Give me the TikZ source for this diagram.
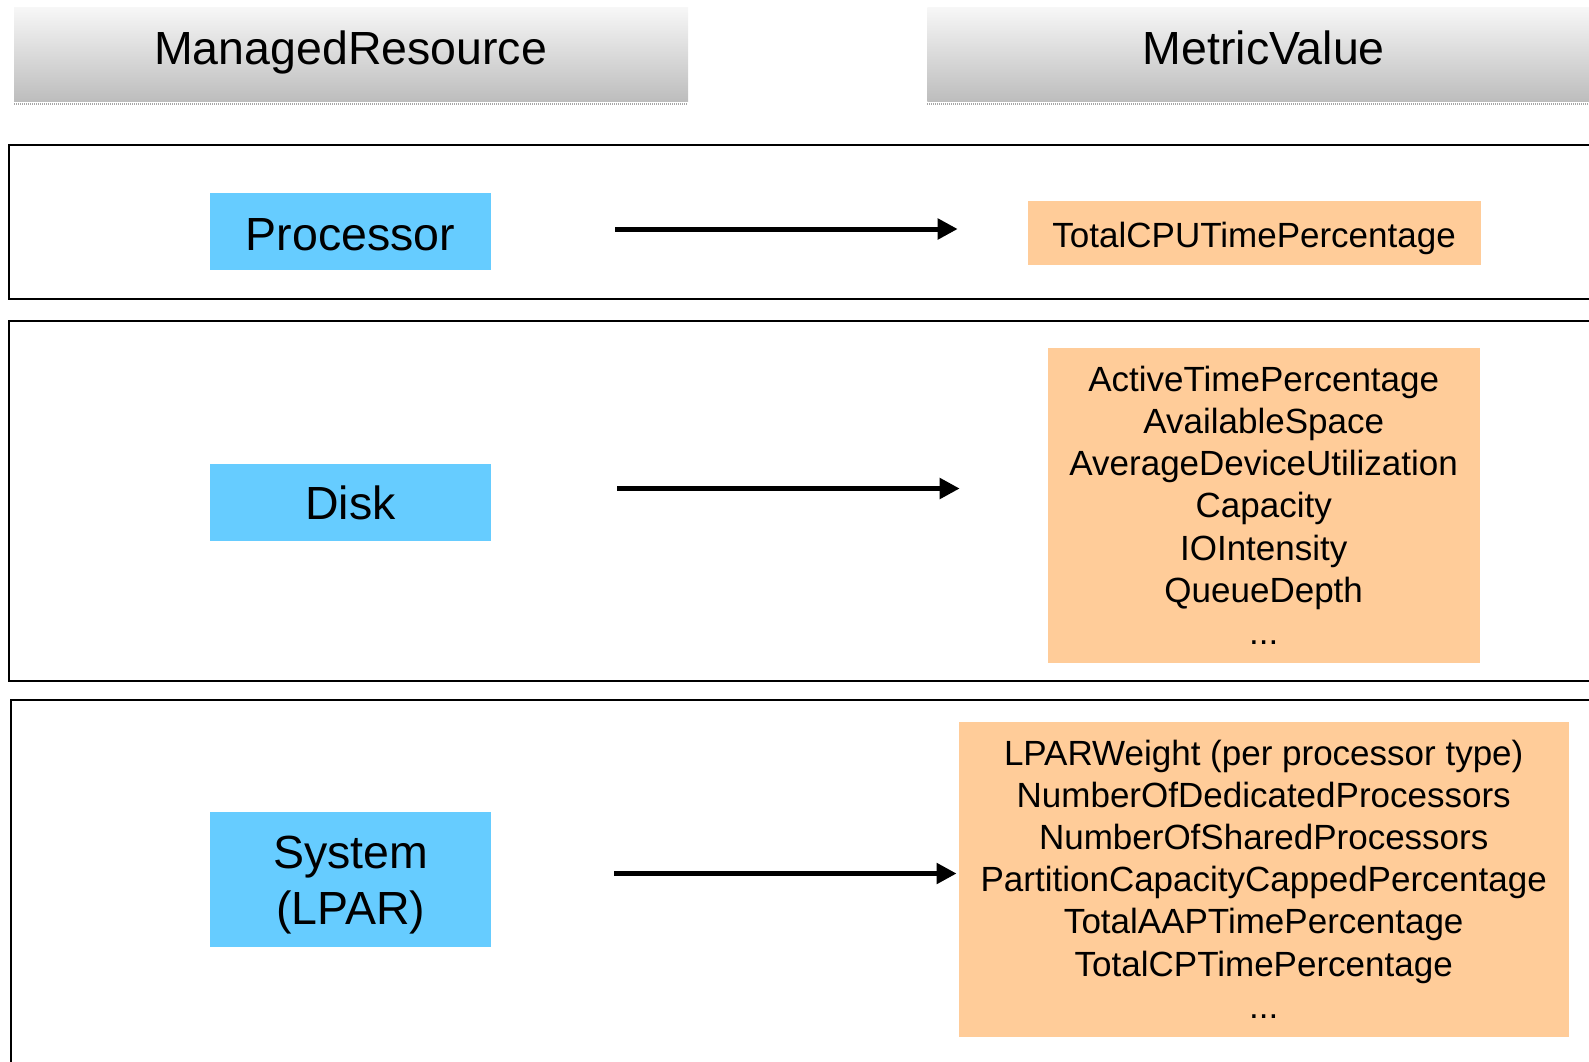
\documentclass[tikz,border=0pt]{standalone}
\usepackage{fontspec}
\setmainfont{Liberation Sans}
\usetikzlibrary{arrows.meta}
\definecolor{resblue}{HTML}{66CCFF}
\definecolor{metorange}{HTML}{FFCC99}
\definecolor{hdrtop}{HTML}{F7F7F7}
\definecolor{hdrbot}{HTML}{BDBDBD}
\tikzset{
  hdrbar/.style={inner sep=0, outer sep=0, top color=hdrtop, bottom color=hdrbot, draw=none},
  hdrtext/.style={font=\fontsize{46.5}{56}\selectfont, inner sep=0,
                  text height=33.3pt, text depth=0.7pt},
  sepline/.style={draw=gray!70, line width=2.4, dash pattern=on 1 off 1},
  frame/.style={draw=black, line width=2},
  resbox/.style={fill=resblue, inner sep=0, minimum width=281.7,
                 align=center, font=\fontsize{46.5}{56.5}\selectfont},
  restext/.style={inner sep=0, align=center, font=\fontsize{46.5}{56.5}\selectfont},
  metbox/.style={fill=metorange, inner sep=0, align=center,
                 font=\fontsize{35}{42.2}\selectfont},
  arr/.style={line width=5, -{Triangle[length=20, width=20]}}
}
\begin{document}
\begin{tikzpicture}[x=1pt, y=-1pt]
  \useasboundingbox (0,0) rectangle (1589,1061);
  \clip (0,0) rectangle (1589,1061);

  % column headers
  \node[hdrbar, minimum width=674, minimum height=94.2] (hdrA) at (351.1,54.2) {};
  \node[hdrbar, minimum width=700, minimum height=94.2] (hdrB) at (1277.3,54.2) {};
  \node[hdrtext] (hdrAtxt) at (350.6,48.6) {ManagedResource};
  \node[hdrtext] (hdrBtxt) at (1263.7,48.6) {MetricValue};
  \draw[sepline] ([yshift=-2.6]hdrA.south west) -- ([yshift=-2.6]hdrA.south east);
  \draw[sepline] ([yshift=-2.6]hdrB.south west) -- ([yshift=-2.6]hdrB.south east);

  % row frames
  \draw[frame] (9.1,145) rectangle (1620,299);
  \draw[frame] (9.1,321.2) rectangle (1620,681);
  \draw[frame] (11.1,700.3) rectangle (1620,1100);

  % managed resources
  \node[resbox, minimum height=77, text height=38.6pt, text depth=0pt] (proc) at (350.6,231) {Processor};
  \node[resbox, minimum height=77] (disk) at (350.6,502.6) {Disk};
  \node[resbox, minimum height=134.8] (sys) at (350.6,879.1) {};
  \node[restext] (systxt) at ([yshift=-6]sys.center) {System\\(LPAR)};

  % metric values
  \node[metbox, minimum width=453, minimum height=63.8, text height=29.9pt, text depth=0pt] (cpu) at (1254.1,232.6)
    {TotalCPUTimePercentage};
  \node[metbox, minimum width=431.7, minimum height=315.2] (diskm) at (1263.7,505.2)
    {ActiveTimePercentage\\AvailableSpace\\AverageDeviceUtilization\\Capacity\\IOIntensity\\QueueDepth\\...};
  \node[metbox, minimum width=610, minimum height=315.2] (lparm) at (1263.7,879.1)
    {LPARWeight (per processor type)\\NumberOfDedicatedProcessors\\NumberOfSharedProcessors\\PartitionCapacityCappedPercentage\\TotalAAPTimePercentage\\TotalCPTimePercentage\\...};

  % mapping arrows
  \coordinate (a1s) at (615.1,229);   \coordinate (a1e) at (957.7,229);
  \coordinate (a2s) at (617.2,488.5); \coordinate (a2e) at (959.7,488.5);
  \coordinate (a3s) at (614.1,873.5); \coordinate (a3e) at (956.6,873.5);
  \draw[arr] (a1s) -- (a1e);
  \draw[arr] (a2s) -- (a2e);
  \draw[arr] (a3s) -- (a3e);
\end{tikzpicture}
\end{document}
